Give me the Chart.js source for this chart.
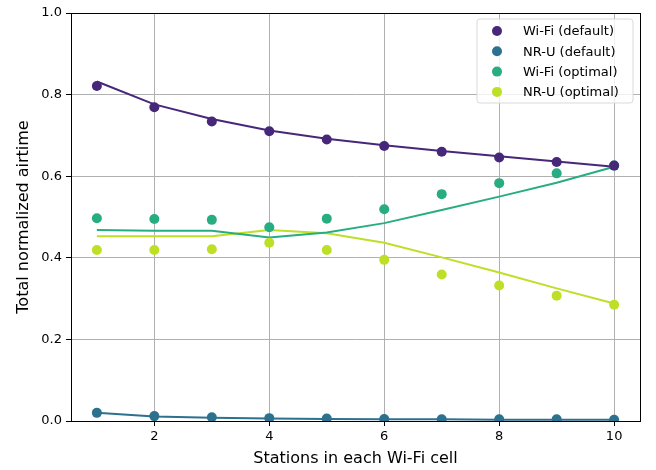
<!DOCTYPE html>
<html>
<head>
<meta charset="utf-8">
<script src="https://cdn.jsdelivr.net/npm/chart.js@4.4.1/dist/chart.umd.min.js"></script>
<style>
  html, body { margin: 0; padding: 0; background: #ffffff; }
  #wrap { width: 656px; height: 470px; }
</style>
</head>
<body>
<div id="wrap"><canvas id="c" width="656" height="470"></canvas></div>
<script>
// Number of stations per Wi-Fi cell
const stations = [1, 2, 3, 4, 5, 6, 7, 8, 9, 10];

// Simulated airtime (markers)
const wifiDefaultSim = [0.821, 0.769, 0.734, 0.710, 0.690, 0.674, 0.660, 0.646, 0.635, 0.626];
const nruDefaultSim  = [0.020, 0.012, 0.009, 0.007, 0.006, 0.005, 0.004, 0.004, 0.004, 0.003];
const wifiOptimalSim = [0.497, 0.495, 0.493, 0.475, 0.496, 0.519, 0.556, 0.583, 0.607, 0.626];
const nruOptimalSim  = [0.419, 0.419, 0.421, 0.437, 0.419, 0.395, 0.359, 0.332, 0.307, 0.285];

// Analytical model (lines)
const wifiDefaultModel = [0.832, 0.776, 0.740, 0.712, 0.692, 0.676, 0.662, 0.649, 0.636, 0.623];
const nruDefaultModel  = [0.020, 0.011, 0.008, 0.006, 0.005, 0.004, 0.004, 0.003, 0.003, 0.003];
const wifiOptimalModel = [0.468, 0.466, 0.466, 0.450, 0.462, 0.485, 0.517, 0.550, 0.584, 0.623];
const nruOptimalModel  = [0.453, 0.453, 0.453, 0.468, 0.460, 0.437, 0.401, 0.364, 0.325, 0.288];

const seriesNames = ['Wi-Fi (default)', 'NR-U (default)', 'Wi-Fi (optimal)', 'NR-U (optimal)'];
const seriesColors = ['#46277a', '#2c718e', '#27ad81', '#bddf26'];

const xTicks = [2, 4, 6, 8, 10];
const yTicks = [0, 0.2, 0.4, 0.6, 0.8, 1.0];

const sims = [wifiDefaultSim, nruDefaultSim, wifiOptimalSim, nruOptimalSim];
const models = [wifiDefaultModel, nruDefaultModel, wifiOptimalModel, nruOptimalModel];

const toPts = arr => stations.map((x, i) => ({ x: x, y: arr[i] }));

const datasets = [];
models.forEach((m, i) => {
  datasets.push({
    label: seriesNames[i] + ' model',
    data: toPts(m),
    showLine: true,
    borderColor: seriesColors[i],
    backgroundColor: seriesColors[i],
    borderWidth: 2,
    pointRadius: 0,
    order: 2
  });
});
sims.forEach((s, i) => {
  datasets.push({
    label: seriesNames[i],
    data: toPts(s),
    showLine: false,
    borderColor: seriesColors[i],
    backgroundColor: seriesColors[i],
    pointRadius: 5,
    pointBorderWidth: 0,
    order: 1
  });
});

const FONT = 'DejaVu Sans';

// Legend box drawn inside the plot area, top-right corner
const insideLegend = {
  id: 'insideLegend',
  afterDraw(chart) {
    const ctx = chart.ctx;
    const area = chart.chartArea;
    const w = 156, h = 84;
    const x0 = area.right - 7 - w;
    const y0 = area.top + 6;
    ctx.save();
    ctx.beginPath();
    const r = 3;
    ctx.moveTo(x0 + r, y0);
    ctx.arcTo(x0 + w, y0, x0 + w, y0 + h, r);
    ctx.arcTo(x0 + w, y0 + h, x0, y0 + h, r);
    ctx.arcTo(x0, y0 + h, x0, y0, r);
    ctx.arcTo(x0, y0, x0 + w, y0, r);
    ctx.closePath();
    ctx.fillStyle = 'rgba(255,255,255,0.8)';
    ctx.fill();
    ctx.strokeStyle = '#d9d9d9';
    ctx.lineWidth = 1;
    ctx.stroke();
    ctx.font = '13px "' + FONT + '"';
    ctx.textBaseline = 'middle';
    ctx.textAlign = 'left';
    seriesNames.forEach((name, i) => {
      const cy = y0 + 12 + i * 20.3;
      ctx.beginPath();
      ctx.arc(x0 + 20, cy, 5, 0, Math.PI * 2);
      ctx.fillStyle = seriesColors[i];
      ctx.fill();
      ctx.fillStyle = '#000000';
      ctx.fillText(name, x0 + 46, cy + 1);
    });
    ctx.restore();
  }
};

// Full frame around the plot area
const frame = {
  id: 'frame',
  afterDatasetsDraw(chart) {
    const ctx = chart.ctx;
    const a = chart.chartArea;
    ctx.save();
    ctx.strokeStyle = '#000000';
    ctx.lineWidth = 1;
    ctx.strokeRect(Math.round(a.left) + 0.5, Math.round(a.top) + 0.5,
                   Math.round(a.right - a.left), Math.round(a.bottom - a.top));
    ctx.restore();
  }
};

new Chart(document.getElementById('c'), {
  type: 'scatter',
  data: { datasets: datasets },
  options: {
    responsive: false,
    animation: false,
    devicePixelRatio: 1,
    layout: { padding: { left: 0, top: 13, right: 16, bottom: 0 } },
    plugins: {
      legend: { display: false },
      tooltip: { enabled: false }
    },
    scales: {
      x: {
        type: 'linear',
        min: 0.55,
        max: 10.45,
        afterBuildTicks: s => { s.ticks = xTicks.map(v => ({ value: v })); },
        afterFit: s => { s.height = 49; },
        grid: { color: '#b0b0b0', lineWidth: 1, tickLength: 5, tickColor: '#000000', drawOnChartArea: true },
        border: { display: false },
        ticks: {
          color: '#000000',
          font: { family: FONT, size: 13 },
          padding: 3,
          maxRotation: 0,
          callback: v => String(v)
        },
        title: {
          display: true,
          text: 'Stations in each Wi-Fi cell',
          color: '#000000',
          font: { family: FONT, size: 16 },
          padding: { top: 0, bottom: 2 }
        }
      },
      y: {
        type: 'linear',
        min: 0,
        max: 1,
        afterBuildTicks: s => { s.ticks = yTicks.map(v => ({ value: v })); },
        afterFit: s => { s.width = 71; },
        grid: { color: '#b0b0b0', lineWidth: 1, tickLength: 5, tickColor: '#000000' },
        border: { display: false },
        ticks: {
          color: '#000000',
          font: { family: FONT, size: 13 },
          padding: 4,
          callback: v => v.toFixed(1)
        },
        title: {
          display: true,
          text: 'Total normalized airtime',
          color: '#000000',
          font: { family: FONT, size: 16 },
          padding: { top: 14, bottom: 0 }
        }
      }
    }
  },
  plugins: [frame, insideLegend]
});
</script>
</body>
</html>
